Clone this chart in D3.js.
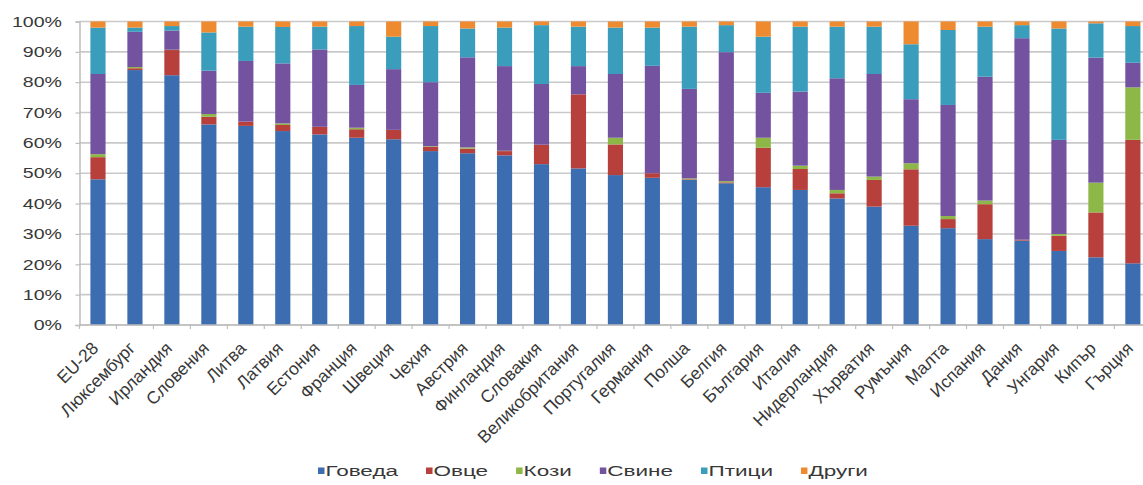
<!DOCTYPE html>
<html>
<head>
<meta charset="utf-8">
<script src="https://cdn.jsdelivr.net/npm/d3@7"></script>
<style>
  html, body { margin: 0; padding: 0; background: #fff; }
  svg { display: block; }
  text { font-family: "Liberation Sans", Arial, sans-serif; fill: #383838; }
</style>
</head>
<body>
<svg id="chart" width="1143" height="485"></svg>
<script>
// Categories (countries), in chart order
const countries = ["EU-28", "Люксембург", "Ирландия", "Словения", "Литва", "Латвия", "Естония",
  "Франция", "Швеция", "Чехия", "Австрия", "Финландия", "Словакия", "Великобритания",
  "Португалия", "Германия", "Полша", "Белгия", "България", "Италия", "Нидерландия",
  "Хърватия", "Румъния", "Малта", "Испания", "Дания", "Унгария", "Кипър", "Гърция"];

// Share of livestock units by type, %
const goveda = [48.0, 84.0, 82.3, 66.1, 65.6, 63.9, 62.8, 61.7, 61.2, 57.3, 56.6, 55.9, 53.0, 51.6,
  49.4, 48.5, 47.8, 46.7, 45.4, 44.5, 41.7, 39.0, 32.7, 31.9, 28.3, 27.8, 24.4, 22.3, 20.3];
const ovtse = [7.3, 0.6, 8.3, 2.5, 1.4, 2.0, 2.5, 2.8, 3.1, 1.4, 1.5, 1.4, 6.4, 24.4,
  10.1, 1.5, 0.2, 0.3, 13.0, 6.9, 1.7, 8.8, 18.6, 3.0, 11.5, 0.3, 5.0, 14.8, 40.7];
const kozi = [1.0, 0.4, 0.1, 0.9, 0.0, 0.5, 0.0, 0.5, 0.0, 0.2, 0.4, 0.1, 0.0, 0.0,
  2.2, 0.0, 0.3, 0.4, 3.3, 1.1, 1.1, 1.1, 2.0, 1.0, 1.2, 0.0, 0.6, 9.8, 17.3];
const svine = [26.4, 11.6, 6.3, 14.3, 20.0, 19.8, 25.5, 14.1, 20.0, 21.1, 29.7, 27.9, 20.0, 9.3,
  21.0, 35.4, 29.5, 42.5, 14.8, 24.4, 36.8, 33.8, 21.1, 36.6, 40.8, 66.4, 31.0, 41.2, 8.1];
const ptitsi = [15.3, 1.4, 1.5, 12.6, 11.3, 12.0, 7.5, 19.4, 10.7, 18.5, 9.5, 12.7, 19.4, 13.0,
  15.3, 12.6, 20.5, 8.9, 18.5, 21.4, 17.0, 15.6, 18.1, 24.7, 16.5, 4.3, 36.7, 11.3, 12.1];
const drugi = [2.0, 2.0, 1.5, 3.6, 1.7, 1.8, 1.7, 1.5, 5.0, 1.5, 2.3, 2.0, 1.2, 1.7,
  2.0, 2.0, 1.7, 1.2, 5.0, 1.7, 1.7, 1.7, 7.5, 2.8, 1.7, 1.2, 2.3, 0.6, 1.5];

const seriesNames = ["Говеда", "Овце", "Кози", "Свине", "Птици", "Други"];
const seriesValues = [goveda, ovtse, kozi, svine, ptitsi, drugi];
const seriesColors = ["#3b6db0", "#b7403d", "#8db848", "#7352a0", "#3a9dbb", "#ee8a30"];

const yTicks = [0, 10, 20, 30, 40, 50, 60, 70, 80, 90, 100];

// Rows for d3.stack
const rows = countries.map((c, i) => {
  const r = { country: c };
  seriesNames.forEach((s, k) => { r[s] = seriesValues[k][i]; });
  return r;
});

const svg = d3.select("#chart");
const plot = { left: 79.5, top: 21.5, bottom: 325 };
const step = 36.96;
const plotRight = plot.left + step * countries.length;

const x = d3.scaleBand()
  .domain(countries)
  .range([plot.left, plotRight])
  .paddingInner(0.59)
  .paddingOuter(0.295);

const y = d3.scaleLinear().domain([0, 1]).range([plot.bottom, plot.top]);

// Horizontal gridlines
svg.append("g")
  .selectAll("line")
  .data(yTicks)
  .join("line")
  .attr("x1", plot.left)
  .attr("x2", plotRight)
  .attr("y1", d => y(d / 100))
  .attr("y2", d => y(d / 100))
  .attr("stroke", "#c9c9c9")
  .attr("stroke-width", 1.6);

// Stacked 100% bars
const stacked = d3.stack()
  .keys(seriesNames)
  .offset(d3.stackOffsetExpand)(rows);

svg.append("g")
  .selectAll("g")
  .data(stacked)
  .join("g")
  .attr("fill", (d, i) => seriesColors[i])
  .selectAll("rect")
  .data(d => d)
  .join("rect")
  .attr("x", d => x(d.data.country))
  .attr("width", x.bandwidth())
  .attr("y", d => y(d[1]))
  .attr("height", d => y(d[0]) - y(d[1]));

// Y axis
const yAxis = svg.append("g").attr("transform", `translate(${plot.left},0)`)
  .call(d3.axisLeft(y).tickValues(yTicks.map(t => t / 100)).tickSize(4).tickFormat(() => ""));
yAxis.select(".domain").attr("stroke", "#bdbdbd").attr("stroke-width", 1.5);
yAxis.selectAll(".tick line").attr("stroke", "#bdbdbd").attr("stroke-width", 1.2);

svg.append("g")
  .selectAll("text")
  .data(yTicks)
  .join("text")
  .attr("text-anchor", "end")
  .attr("dy", "0.36em")
  .attr("font-size", 14.5)
  .attr("transform", d => `translate(62,${y(d / 100)}) scale(1.35,1)`)
  .text(d => d + "%");

// X axis with ticks between categories
const xAxis = svg.append("g").attr("transform", `translate(0,${plot.bottom})`);
xAxis.append("line")
  .attr("x1", plot.left).attr("x2", plotRight)
  .attr("stroke", "#bdbdbd").attr("stroke-width", 1.5);
xAxis.selectAll("line.tick")
  .data(d3.range(countries.length + 1))
  .join("line")
  .attr("class", "tick")
  .attr("x1", i => plot.left + i * x.step())
  .attr("x2", i => plot.left + i * x.step())
  .attr("y1", 0).attr("y2", 4)
  .attr("stroke", "#bdbdbd").attr("stroke-width", 1.2);

svg.append("g")
  .selectAll("text")
  .data(countries)
  .join("text")
  .attr("text-anchor", "end")
  .attr("dy", "0.35em")
  .attr("font-size", 17.5)
  .attr("transform", d => `translate(${x(d) + x.bandwidth() / 2 - 3},345) rotate(-45)`)
  .text(d => d);

// Legend
const legend = svg.append("g");
let lx = 318;
seriesNames.forEach((s, i) => {
  const item = legend.append("g").attr("transform", `translate(${lx},471)`);
  item.append("rect").attr("x", 0).attr("y", -3.5).attr("width", 6.5).attr("height", 6.5)
    .attr("fill", seriesColors[i]);
  const t = item.append("text")
    .attr("font-size", 15)
    .attr("dy", "0.36em")
    .attr("transform", "translate(7.5,0) scale(1.5,1)")
    .text(s);
  const w = t.node().getComputedTextLength() * 1.5;
  lx += 7.5 + w + 28;
});
</script>
</body>
</html>
